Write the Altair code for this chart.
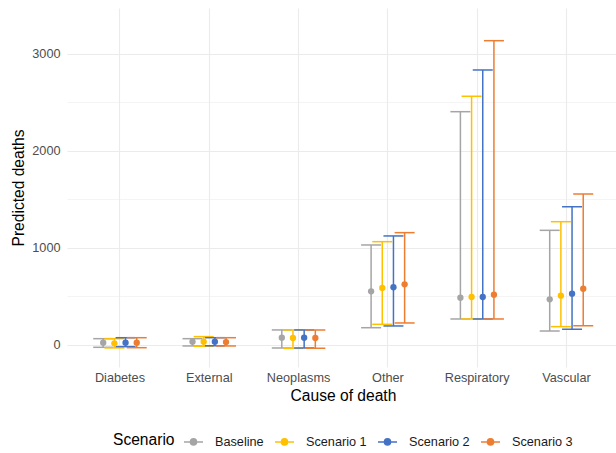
import altair as alt
import pandas as pd

causes = ["Diabetes", "External", "Neoplasms", "Other", "Respiratory", "Vascular"]
scenarios = ["Baseline", "Scenario 1", "Scenario 2", "Scenario 3"]
colors = ["#A5A5A5", "#FFC000", "#4472C4", "#ED7D31"]

baseline_mean = [24, 34, 75, 553, 488, 471]
baseline_low = [-24, -10, -31, 178, 268, 144]
baseline_high = [65, 65, 155, 1031, 2405, 1182]

s1_mean = [17, 34, 72, 588, 495, 508]
s1_low = [-30, -13, -35, 213, 268, 189]
s1_high = [65, 86, 155, 1065, 2564, 1271]

s2_mean = [24, 34, 75, 595, 495, 529]
s2_low = [-17, -8, -31, 196, 268, 162]
s2_high = [75, 75, 155, 1124, 2835, 1426]

s3_mean = [24, 30, 72, 625, 519, 580]
s3_low = [-28, -10, -33, 227, 268, 199]
s3_high = [75, 75, 155, 1158, 3137, 1557]

series = {
    "Baseline": (baseline_mean, baseline_low, baseline_high),
    "Scenario 1": (s1_mean, s1_low, s1_high),
    "Scenario 2": (s2_mean, s2_low, s2_high),
    "Scenario 3": (s3_mean, s3_low, s3_high),
}

rows = []
for s in scenarios:
    m, lo, hi = series[s]
    for i, c in enumerate(causes):
        rows.append({"cause": c, "scenario": s, "mean": m[i], "low": lo[i], "high": hi[i]})
df = pd.DataFrame(rows)

FONT = "Liberation Sans"
LABEL_SIZE = 12.7
TITLE_SIZE = 15.6

x_enc = alt.X(
    "cause:N",
    sort=causes,
    title="Cause of death",
    scale=alt.Scale(paddingInner=0, paddingOuter=0.0739, align=0.63),
    axis=alt.Axis(
        labelAngle=0,
        grid=True,
        bandPosition=0.5,
        labelPadding=4,
        titleX=276,
        titlePadding=5,
    ),
)
xoff = alt.XOffset("scenario:N", sort=scenarios,
                   scale=alt.Scale(range=[22.3, 67.0], paddingOuter=0, paddingInner=0))
color_enc = alt.Color(
    "scenario:N",
    sort=scenarios,
    scale=alt.Scale(domain=scenarios, range=colors),
    legend=alt.Legend(
        title="Scenario",
        orient="none",
        direction="horizontal",
        titleOrient="left",
        titleBaseline="middle",
        legendX=46,
        legendY=423,
        symbolType="M-1,0L1,0M0.32,0A0.32,0.32,0,1,1,-0.32,0A0.32,0.32,0,1,1,0.32,0Z",
        symbolSize=361,
        symbolStrokeWidth=1.5,
        symbolOpacity=1,
        labelOffset=11,
        columnPadding=8,
        titlePadding=8,
    ),
)
y_scale = alt.Scale(domain=[-227, 3474], nice=False, zero=False)
y_axis = alt.Axis(
    values=[0, 500, 1000, 1500, 2000, 2500, 3000],
    format="d",
    labelExpr="datum.value % 1000 === 0 ? datum.label : ''",
    gridWidth={"condition": {"test": "datum.value % 1000 === 0", "value": 1.1}, "value": 0.55},
    labelPadding=7,
    titleX=-49,
    titleBaseline="middle",
)

base = alt.Chart(df)
rules = base.mark_rule(strokeWidth=1.5).encode(
    x=x_enc, xOffset=xoff,
    y=alt.Y("low:Q", scale=y_scale, axis=y_axis, title="Predicted deaths"),
    y2="high:Q",
    color=color_enc,
)
caps_hi = base.mark_tick(size=20, thickness=1.5, orient="horizontal", opacity=1).encode(
    x=x_enc, xOffset=xoff, y=alt.Y("high:Q", scale=y_scale), color=color_enc
)
caps_lo = base.mark_tick(size=20, thickness=1.5, orient="horizontal", opacity=1).encode(
    x=x_enc, xOffset=xoff, y=alt.Y("low:Q", scale=y_scale), color=color_enc
)
pts = base.mark_circle(size=40, opacity=1).encode(
    x=x_enc, xOffset=xoff, y=alt.Y("mean:Q", scale=y_scale), color=color_enc
)

chart = (
    alt.layer(rules, caps_hi, caps_lo, pts)
    .properties(
        width=549,
        height=359,
        autosize=alt.AutoSizeParams(type="none"),
        padding={"left": 67, "top": 8, "right": 0, "bottom": 86},
        background="white",
    )
    .configure_view(stroke=None)
    .configure_axis(
        domain=False,
        ticks=False,
        labelFont=FONT,
        labelFontSize=LABEL_SIZE,
        labelColor="#4D4D4D",
        titleFont=FONT,
        titleFontSize=TITLE_SIZE,
        titleFontWeight="normal",
        titleColor="#000000",
        gridColor="#EBEBEB",
        gridWidth=1.1,
    )
    .configure_legend(
        titleFont=FONT,
        titleFontSize=TITLE_SIZE,
        titleFontWeight="normal",
        titleColor="#000000",
        labelFont=FONT,
        labelFontSize=LABEL_SIZE,
        labelColor="#1A1A1A",
    )
)

chart.save("out.html", embed_options={"renderer": "svg", "actions": False})
